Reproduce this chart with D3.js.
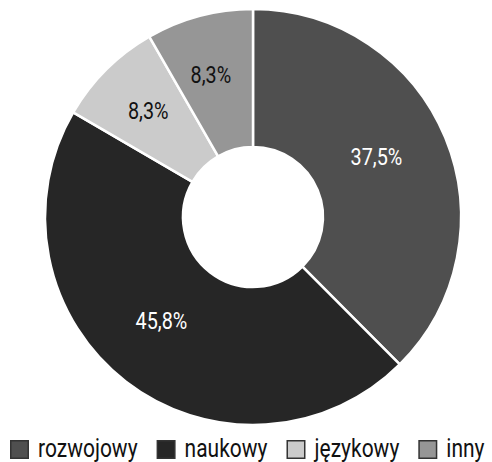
<!DOCTYPE html>
<html><head><meta charset="utf-8">
<script src="https://cdn.jsdelivr.net/npm/d3@7/dist/d3.min.js"></script>
<style>
html,body{margin:0;padding:0;background:#fff;overflow:hidden}
text{font-family:Roboto,"Noto Sans",sans-serif}
</style></head>
<body><svg id="chart" width="492" height="462"></svg>
<script>
const categories = ["rozwojowy","naukowy","językowy","inny"];
const values = [37.5, 45.8, 8.3, 8.3];
const labels = ["37,5%","45,8%","8,3%","8,3%"];
const colors = ["#4f4f4f","#262626","#cbcbcb","#969696"];
const labelColors = ["#ffffff","#ffffff","#111111","#111111"];

const svg = d3.select("#chart");
const cx = 253, cy = 217, rOuter = 208, rInner = 70;
const g = svg.append("g").attr("transform", `translate(${cx},${cy})`);

const pie = d3.pie().sort(null).value(d => d.v);
const data = pie(categories.map((c,i)=>({c, v: values[i], i})));
const arc = d3.arc().innerRadius(rInner).outerRadius(rOuter);
const labelArc = d3.arc().innerRadius(140).outerRadius(140);

g.selectAll("path").data(data).join("path")
  .attr("d", arc)
  .attr("fill", d => colors[d.data.i])
  .attr("stroke", "#fff").attr("stroke-width", 2.5).attr("stroke-linejoin","round");

g.selectAll("text.lbl").data(data).join("text").attr("class","lbl")
  .attr("transform", d => { const [x,y] = labelArc.centroid(d); return `translate(${x-6},${y-7}) scale(0.86,1)`; })
  .attr("text-anchor","middle").attr("dy","0.36em")
  .attr("font-size", 23).attr("fill", d => labelColors[d.data.i])
  .text(d => labels[d.data.i]);

// legend
const lg = svg.append("g").attr("transform","translate(10,440)");
let x = 0;
categories.forEach((c,i) => {
  const item = lg.append("g").attr("transform",`translate(${x},0)`);
  item.append("rect").attr("x",0.75).attr("y",0.75).attr("width",17.5).attr("height",17.5)
    .attr("fill",colors[i]).attr("stroke","#333").attr("stroke-width",1.5);
  const t = item.append("text").attr("transform","translate(28,17) scale(0.84,1)")
    .attr("font-size",25).attr("fill","#111")
    .text(c);
  const w = t.node().getComputedTextLength() * 0.84;
  x += 28 + w + 19;
});
</script></body></html>
